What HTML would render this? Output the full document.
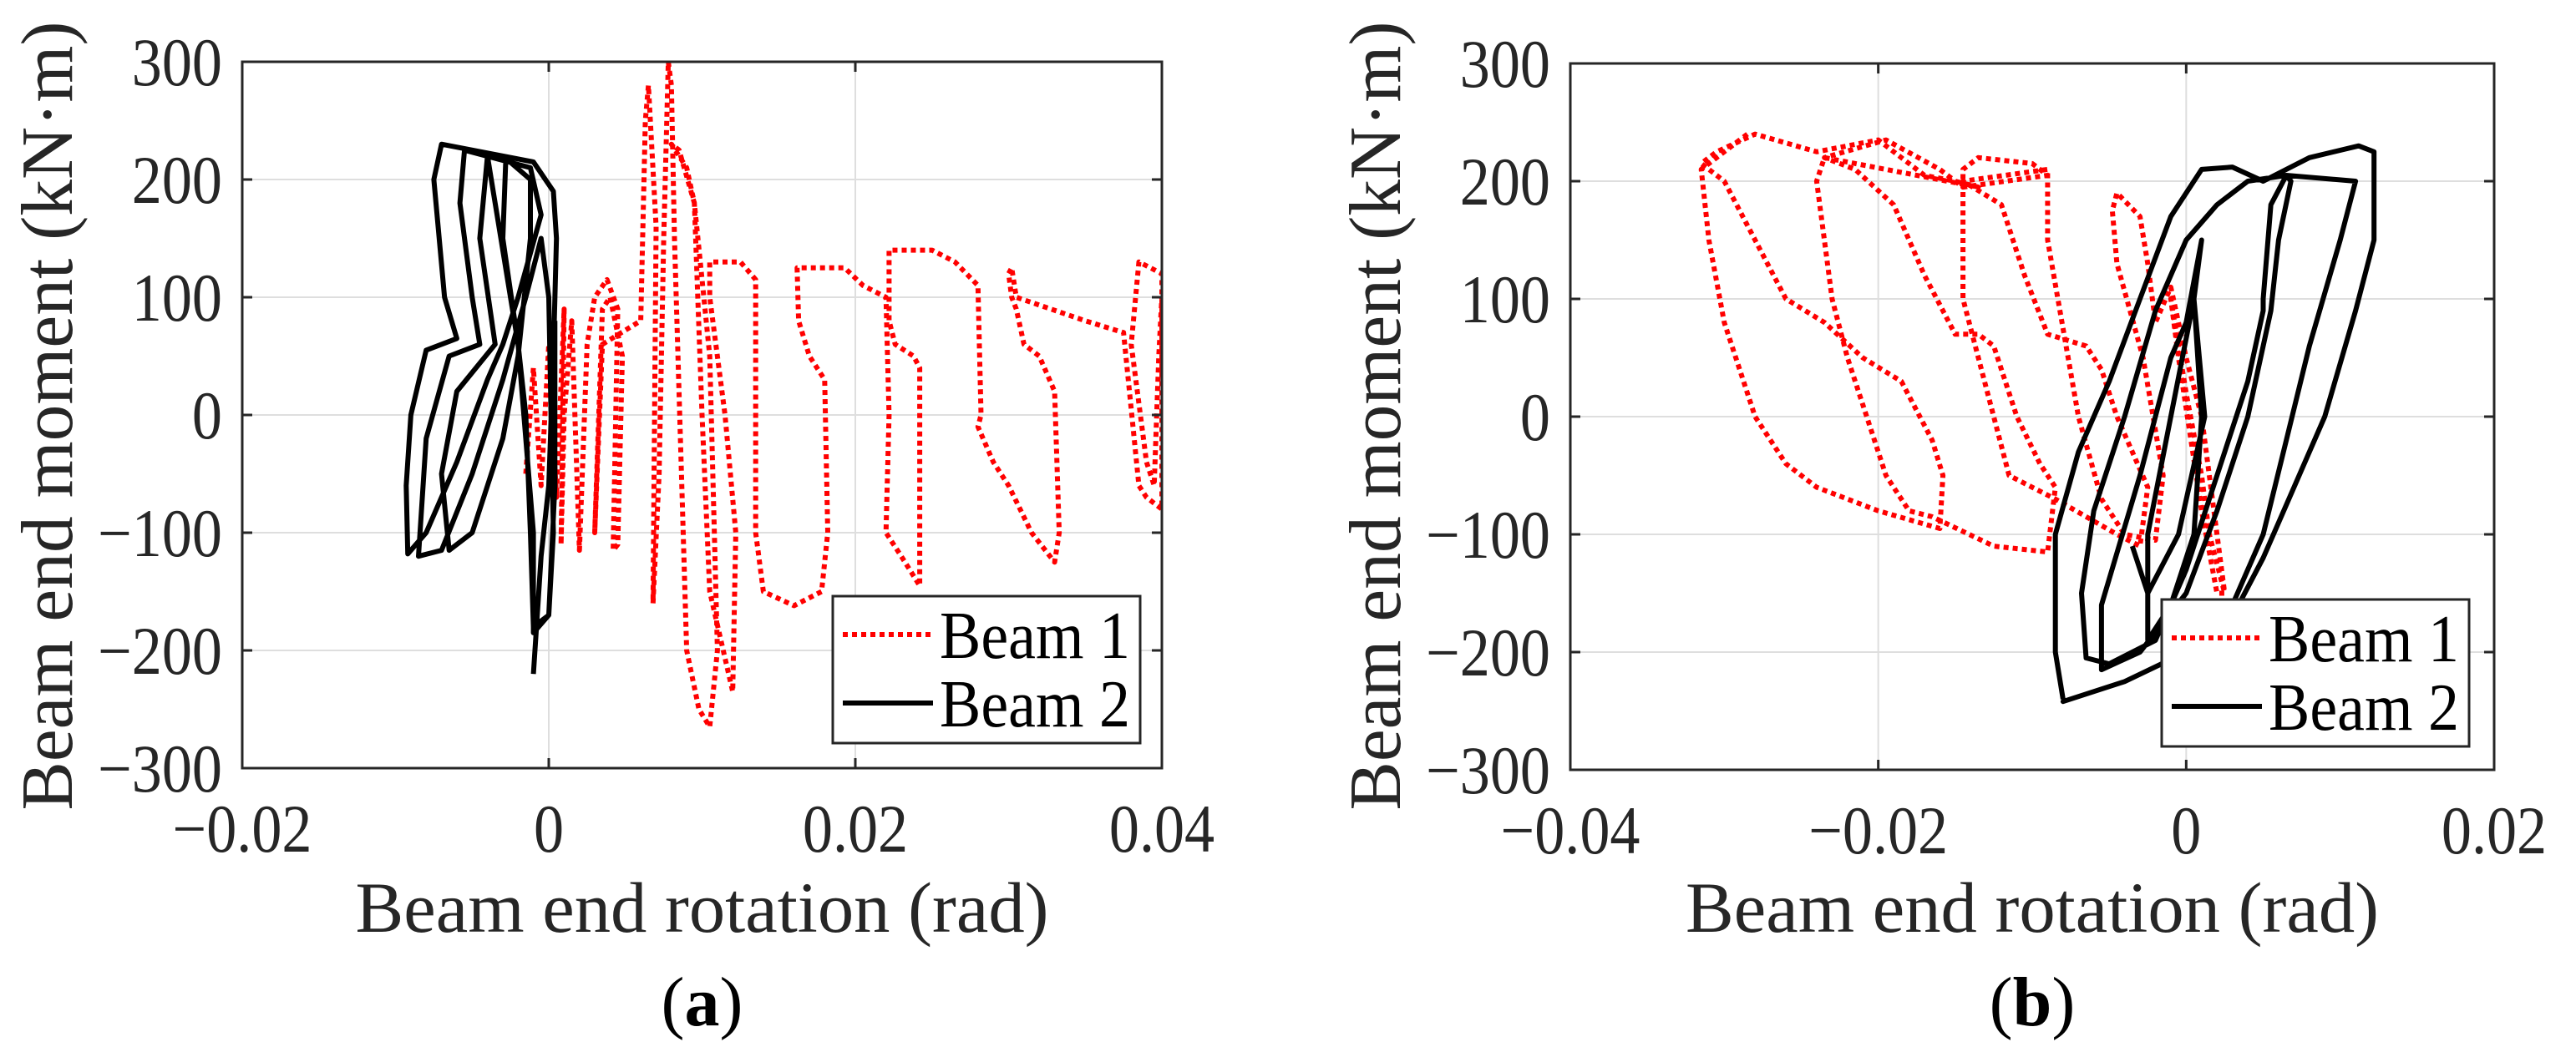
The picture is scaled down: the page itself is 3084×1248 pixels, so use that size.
<!DOCTYPE html>
<html><head><meta charset="utf-8"><style>
html,body{margin:0;padding:0;background:#fff;}
svg{display:block;font-family:"Liberation Serif",serif;}
</style></head><body>
<svg id="fig" width="3084" height="1248" viewBox="0 0 3084 1248"></svg>
<script>
const yTicks=[-300,-200,-100,0,100,200,300];
const yTickLabels=["\u2212300","\u2212200","\u2212100","0","100","200","300"];
const xTicksA=[-0.02,0,0.02,0.04];
const xTickLabelsA=["\u22120.02","0","0.02","0.04"];
const xTicksB=[-0.04,-0.02,0,0.02];
const xTickLabelsB=["\u22120.04","\u22120.02","0","0.02"];
const seriesNames=["Beam 1","Beam 2"];
const beam1A=[[-0.0015,-50],[-0.001,40],[-0.0005,-60],[0,60],[0.0005,-70],[0.001,90],[0.0008,-110],[0.001,0],[0.0015,80],[0.002,-115],[0.0025,60],[0.003,100],[0.0038,115],[0.0045,90],[0.0042,-115],[0.0045,-110],[0.0048,50],[0.004,100],[0.0035,90],[0.003,-100],[0.0035,60],[0.006,80],[0.0063,250],[0.0065,280],[0.007,160],[0.0068,-160],[0.0072,-50],[0.0075,150],[0.0078,300],[0.008,280],[0.0082,150],[0.009,-200],[0.0098,-250],[0.0105,-265],[0.011,-200],[0.0105,50],[0.0095,180],[0.0085,225],[0.008,230],[0.009,210],[0.0095,180],[0.01,0],[0.0105,-150],[0.012,-235],[0.0122,-100],[0.0115,0],[0.0105,100],[0.0105,130],[0.0125,130],[0.0135,115],[0.0135,-100],[0.014,-150],[0.016,-162],[0.0178,-150],[0.0182,-100],[0.018,30],[0.017,50],[0.0163,80],[0.0162,125],[0.017,125],[0.0193,125],[0.0205,110],[0.022,100],[0.0222,0],[0.022,-100],[0.023,-120],[0.0242,-145],[0.0242,40],[0.0238,50],[0.0226,60],[0.0222,80],[0.0222,140],[0.025,140],[0.0265,130],[0.028,110],[0.0282,0],[0.028,-10],[0.029,-40],[0.03,-60],[0.0315,-100],[0.033,-125],[0.0333,-100],[0.033,20],[0.032,50],[0.031,60],[0.0305,90],[0.0302,100],[0.03,120],[0.0302,125],[0.0305,100],[0.035,80],[0.0375,70],[0.0385,-60],[0.039,-70],[0.04,-80],[0.04,120],[0.0385,130],[0.038,60],[0.039,-40],[0.0395,-60],[0.0398,50],[0.04,100]];
const beam2A=[[-0.001,-220],[-0.0008,-180],[-0.0005,-120],[0,-60],[0.0003,50],[0.0005,150],[0.0003,190],[-0.001,215],[-0.007,230],[-0.0075,200],[-0.0068,100],[-0.006,65],[-0.008,55],[-0.009,0],[-0.0093,-60],[-0.0092,-118],[-0.008,-100],[-0.006,-40],[-0.004,30],[-0.003,60],[-0.002,100],[-0.0005,170],[-0.0012,210],[-0.0055,225],[-0.0058,180],[-0.005,100],[-0.0045,60],[-0.0065,50],[-0.008,-20],[-0.0085,-120],[-0.007,-115],[-0.005,-50],[-0.003,30],[-0.0015,100],[-0.0005,150],[0,100],[0.0003,-100],[0,-170],[-0.001,-180],[-0.0012,-100],[-0.0015,0],[-0.002,60],[-0.004,220],[-0.0045,150],[-0.0035,60],[-0.006,20],[-0.007,-50],[-0.0065,-115],[-0.005,-100],[-0.003,-20],[-0.002,50],[-0.0012,150],[-0.0012,200],[-0.0028,218],[-0.003,150],[-0.002,60],[-0.001,-100],[-0.001,-185],[0,-170],[0.0004,-60],[0.0004,80]];
const beam1B=[[-0.0285,240],[-0.0315,210],[-0.031,150],[-0.03,80],[-0.028,0],[-0.026,-40],[-0.024,-60],[-0.02,-80],[-0.016,-95],[-0.0158,-50],[-0.0165,-20],[-0.0185,30],[-0.021,50],[-0.0235,80],[-0.026,100],[-0.028,150],[-0.03,200],[-0.0315,215],[-0.0305,225],[-0.028,240],[-0.024,225],[-0.02,235],[-0.0185,220],[-0.017,205],[-0.015,200],[-0.0135,195],[-0.0235,220],[-0.024,200],[-0.023,100],[-0.022,50],[-0.0195,-50],[-0.018,-80],[-0.0165,-85],[-0.0125,-110],[-0.009,-115],[-0.0085,-60],[-0.0095,-40],[-0.011,0],[-0.012,40],[-0.0125,60],[-0.0135,70],[-0.015,70],[-0.017,120],[-0.019,180],[-0.0215,210],[-0.0235,220],[-0.0195,235],[-0.016,210],[-0.0145,195],[-0.0145,210],[-0.0135,220],[-0.01,215],[-0.009,205],[-0.0145,195],[-0.0145,100],[-0.0135,50],[-0.0115,-50],[-0.0085,-70],[-0.0045,-100],[-0.003,-110],[-0.0025,-60],[-0.0045,0],[-0.0055,40],[-0.0065,60],[-0.009,70],[-0.0105,120],[-0.012,180],[-0.0145,200],[-0.009,210],[-0.009,150],[-0.007,0],[-0.0055,-70],[-0.004,-100],[-0.002,-105],[-0.0015,-50],[-0.0028,50],[-0.0045,130],[-0.0048,175],[-0.0045,190],[-0.003,170],[-0.0025,130],[-0.002,80],[-0.001,110],[0,50],[0.001,0],[0.002,-100],[0.0025,-150],[0.002,-150],[0.001,-80],[-0.0005,50],[-0.001,100],[0,20],[0.001,-50],[0.0015,-100],[0.0025,-150]];
const beam2B=[[-0.008,-240],[-0.0085,-200],[-0.0085,-100],[-0.007,-30],[-0.005,30],[-0.003,100],[-0.001,170],[0.001,210],[0.003,212],[0.005,200],[0.008,220],[0.0112,230],[0.0122,225],[0.0122,150],[0.011,90],[0.009,0],[0.007,-60],[0.005,-120],[0.003,-170],[0,-200],[-0.004,-225],[-0.008,-242],[-0.004,-225],[0,-200],[0.003,-160],[0.005,-100],[0.0065,-20],[0.008,60],[0.01,150],[0.011,200],[0.0065,205],[0.0055,180],[0.005,100],[0.005,90],[0.004,30],[0.002,-50],[0,-130],[-0.002,-190],[-0.005,-210],[-0.0065,-205],[-0.0068,-150],[-0.006,-80],[-0.004,0],[-0.002,90],[0,150],[0.002,180],[0.004,200],[0.0065,205],[0.0068,200],[0.006,150],[0.0055,90],[0.004,0],[0.002,-80],[0,-150],[-0.003,-200],[-0.0055,-215],[-0.0055,-160],[-0.003,-50],[-0.001,50],[0,80],[0.001,150],[0.0005,100],[0.001,0],[0.0005,-100],[-0.001,-160],[-0.0025,-190],[-0.0025,-100],[-0.001,0],[0.0005,100],[0.0012,0],[-0.0005,-100],[-0.0025,-150],[-0.0035,-110]];

const NS="http://www.w3.org/2000/svg";
const svg=document.getElementById('fig');
function mk(tag,attrs,parent){const e=document.createElementNS(NS,tag);for(const k in attrs)e.setAttribute(k,attrs[k]);(parent||svg).appendChild(e);return e;}

function panel(cfg){
  const g=mk('g',{});
  
  
  const {L,R,T,B,xmin,xmax}=cfg;
  const sx=v=>L+(v-xmin)/(xmax-xmin)*(R-L);
  const sy=v=>B-(v+300)/600*(B-T);
  cfg.xTicks.forEach(t=>{const l=mk('line',{x1:sx(t),x2:sx(t),y1:T,y2:B,stroke:'#dedede','stroke-width':2},g);
    
    });
  yTicks.forEach(t=>{const l=mk('line',{x1:L,x2:R,y1:sy(t),y2:sy(t),stroke:'#dedede','stroke-width':2},g);
    
    });
  const cid='clip-'+cfg.id;
  const cp=mk('clipPath',{id:cid},g);mk('rect',{x:L,y:T,width:R-L,height:B-T},cp);
  const draw=(data,style,name)=>{
    const p=mk('polyline',Object.assign({points:data.map(d=>sx(d[0]).toFixed(1)+','+sy(d[1]).toFixed(1)).join(' '),fill:'none','clip-path':'url(#'+cid+')','stroke-linejoin':'round'},style),g);
    
    
  };
  draw(cfg.beam1,{stroke:'#ff0000','stroke-width':6,'stroke-dasharray':'6 5'},'beam-1-series');
  draw(cfg.beam2,{stroke:'#000','stroke-width':6},'beam-2-series');
  cfg.xTicks.forEach((t,i)=>{
    mk('line',{x1:sx(t),x2:sx(t),y1:B,y2:B-12,stroke:'#262626','stroke-width':3},g);
    mk('line',{x1:sx(t),x2:sx(t),y1:T,y2:T+12,stroke:'#262626','stroke-width':3},g);
    const tx=mk('text',{x:0,y:0,'text-anchor':'middle','font-size':82,fill:'#262626',transform:`translate(${sx(t)},${B+100}) scale(0.88,1)`},g);
    tx.textContent=cfg.xLabels[i];
    
    
  });
  yTicks.forEach((t,i)=>{
    mk('line',{x1:L,x2:L+12,y1:sy(t),y2:sy(t),stroke:'#262626','stroke-width':3},g);
    mk('line',{x1:R,x2:R-12,y1:sy(t),y2:sy(t),stroke:'#262626','stroke-width':3},g);
    const tx=mk('text',{x:0,y:0,'text-anchor':'end','font-size':82,fill:'#262626',transform:`translate(${L-24},${sy(t)+28}) scale(0.88,1)`},g);
    tx.textContent=yTickLabels[i];
    
    
  });
  const box=mk('rect',{x:L,y:T,width:R-L,height:B-T,fill:'none',stroke:'#262626','stroke-width':3},g);
  
  
  const xl=mk('text',{x:(L+R)/2,y:1116,'text-anchor':'middle','font-size':86,fill:'#262626',textLength:830,lengthAdjust:'spacingAndGlyphs'},g);
  xl.textContent='Beam end rotation (rad)';
  
  
  const yl=mk('text',{x:0,y:0,'text-anchor':'middle','font-size':88,fill:'#262626',textLength:945,lengthAdjust:'spacingAndGlyphs',transform:`translate(${cfg.ylx},498) rotate(-90)`},g);
  yl.textContent='Beam end moment (kN\u00b7m)';
  
  
  const lg=mk('g',{},g);
  
  
  const lx=cfg.legX, ly=cfg.legY;
  mk('rect',{x:lx,y:ly,width:368,height:176,fill:'#fff',stroke:'#262626','stroke-width':3},lg);
  mk('line',{x1:lx+12,x2:lx+120,y1:ly+46,y2:ly+46,stroke:'#ff0000','stroke-width':6,'stroke-dasharray':'6 5'},lg);
  mk('line',{x1:lx+12,x2:lx+120,y1:ly+128,y2:ly+128,stroke:'#000','stroke-width':6},lg);
  [0,1].forEach(i=>{
    const t=mk('text',{x:lx+128,y:ly+74+i*82,'font-size':80,fill:'#000',textLength:228,lengthAdjust:'spacingAndGlyphs'},lg);
    t.textContent=seriesNames[i];
    
    
  });
  const cap=mk('text',{x:(L+R)/2,y:1228,'text-anchor':'middle','font-size':84,fill:'#000'},g);
  cap.innerHTML='(<tspan font-weight="bold">'+cfg.cap+'</tspan>)';
  
  
}
panel({id:'panel-a',L:290,R:1391,T:74,B:920,xmin:-0.02,xmax:0.04,xTicks:xTicksA,xLabels:xTickLabelsA,beam1:beam1A,beam2:beam2A,ylx:86,legX:997,legY:714,cap:'a'});
panel({id:'panel-b',L:1880,R:2986,T:76,B:922,xmin:-0.04,xmax:0.02,xTicks:xTicksB,xLabels:xTickLabelsB,beam1:beam1B,beam2:beam2B,ylx:1676,legX:2588,legY:718,cap:'b'});
</script>
</body></html>
